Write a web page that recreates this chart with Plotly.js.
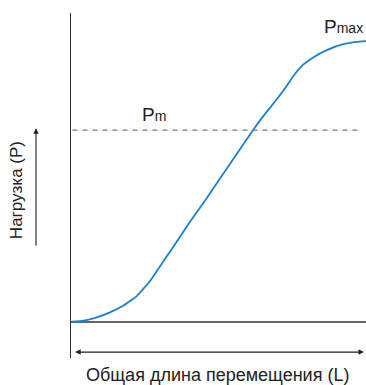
<!DOCTYPE html>
<html>
<head>
<meta charset="utf-8">
<script src="https://cdn.plot.ly/plotly-3.0.1.min.js"></script>
<style>html,body{margin:0;padding:0;background:#fff;}#chart{width:366px;height:385px;}</style>
</head>
<body>
<div id="chart"></div>
<script>
// Displacement (relative units) and load (relative units)
const displacement = [0.24, 4.17, 8.71, 13.2, 17.7, 22.3, 26.8, 30.2, 33.6, 36.9, 39.8, 45.8, 53.7, 61.7, 64.6, 69.7, 73.1, 75.4, 78.7, 82.1, 86.7, 92.3, 96.8, 100];
const load = [0.1, 0.46, 1.67, 3.45, 5.8, 9.25, 14.6, 19.9, 25.1, 30.3, 34.9, 43.8, 56.0, 68.3, 72.5, 79.2, 84.0, 87.6, 91.6, 94.2, 96.8, 98.9, 99.7, 100];
const pmLevel = [68.3];
const pmaxLevel = [100];
const xTitle = "Общая длина перемещения (L)";
const yTitle = "Нагрузка (P)";
const pmLabel = "P<span style='font-size:14px'>m</span>";
const pmaxLabel = "P<span style='font-size:14px'>max</span>";

const fam = "Liberation Sans, Arial, sans-serif";

const trace = {
  x: displacement, y: load, type: "scatter", mode: "lines",
  line: {color: "#1a80d0", width: 1.8, shape: "spline", smoothing: 0.35},
  hoverinfo: "skip"
};

const layout = {
  width: 366, height: 385,
  margin: {l: 71, r: 0, t: 13, b: 27},
  paper_bgcolor: "#fff", plot_bgcolor: "#fff",
  showlegend: false,
  font: {family: fam, size: 15, color: "#222"},
  xaxis: {range: [0, 100], showgrid: false, zeroline: false, showline: false, showticklabels: false, ticks: "", fixedrange: true},
  yaxis: {range: [-12.8, 110], showgrid: false, zeroline: true, zerolinecolor: "#666", zerolinewidth: 1.2,
          showline: true, linecolor: "#333", linewidth: 1.2, showticklabels: false, ticks: "", fixedrange: true},
  shapes: [
    {type: "line", xref: "x", yref: "y", x0: 0.5, x1: 98, y0: pmLevel[0], y1: pmLevel[0],
     line: {color: "#777", width: 1.2, dash: "5px,5px"}}
  ],
  annotations: [
    {xref: "x", yref: "y", x: 99.3, y: -10.7, ax: 0.9, ay: -10.7, axref: "x", ayref: "y",
     showarrow: true, arrowhead: 2, arrowside: "end+start", arrowsize: 1, arrowwidth: 1.1, arrowcolor: "#222", text: ""},
    {xref: "paper", yref: "y", x: -0.1186, y: 69.0, ax: 0, ay: 119,
     showarrow: true, arrowhead: 2, arrowsize: 1, arrowwidth: 1.1, arrowcolor: "#222", text: ""},
    {xref: "paper", yref: "y", x: -0.186, y: 47.0, text: yTitle, textangle: -90, showarrow: false,
     xanchor: "center", yanchor: "middle", font: {family: fam, size: 17, color: "#222"}},
    {xref: "paper", yref: "paper", x: 0.495, y: -0.049, text: xTitle, showarrow: false,
     xanchor: "center", yanchor: "middle", font: {family: fam, size: 18, color: "#222"}},
    {xref: "x", yref: "y", x: 28.0, y: 73.7, text: pmLabel, showarrow: false,
     xanchor: "center", yanchor: "middle", font: {family: fam, size: 19, color: "#222"}},
    {xref: "x", yref: "y", x: 92.3, y: 105.3, text: pmaxLabel, showarrow: false,
     xanchor: "center", yanchor: "middle", font: {family: fam, size: 19, color: "#222"}}
  ]
};

Plotly.newPlot("chart", [trace], layout, {displayModeBar: false, staticPlot: true});
</script>
</body>
</html>
